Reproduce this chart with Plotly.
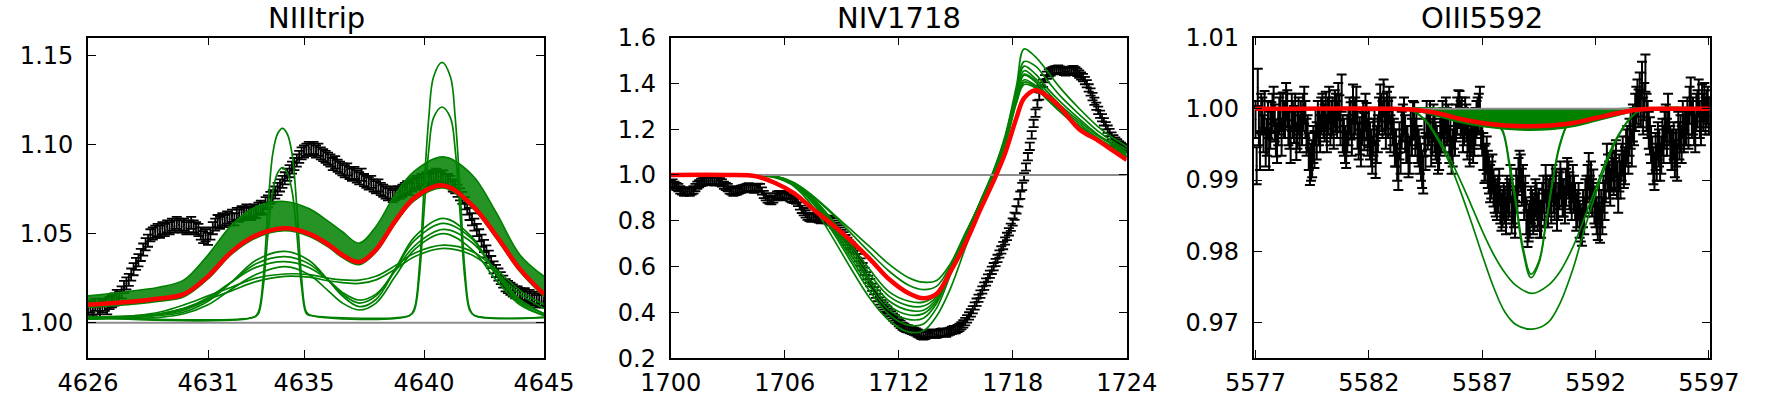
import numpy as np
import plotly.graph_objects as go

# ---------------- Panel 1: NIIItrip ----------------
NIII_X0, NIII_DX = 4626.0, 0.1
niii_flux = [
    1.008, 1.009, 1.007, 1.010, 1.008, 1.006, 1.009, 1.010, 1.008, 1.011,
    1.012, 1.013, 1.015, 1.014, 1.017, 1.020, 1.022, 1.024, 1.027, 1.030,
    1.033, 1.035, 1.038, 1.041, 1.044, 1.046, 1.049, 1.050, 1.051, 1.052,
    1.051, 1.053, 1.052, 1.054, 1.053, 1.055, 1.054, 1.056, 1.055, 1.054,
    1.055, 1.053, 1.054, 1.056, 1.054, 1.053, 1.052, 1.050, 1.048, 1.049,
    1.047, 1.050, 1.053, 1.055, 1.057, 1.056, 1.058, 1.057, 1.059, 1.058,
    1.060, 1.058, 1.061, 1.060, 1.062, 1.061, 1.063, 1.062, 1.061, 1.063,
    1.062, 1.064, 1.065, 1.064, 1.067, 1.068, 1.070, 1.071, 1.073, 1.075,
    1.077, 1.079, 1.081, 1.083, 1.085, 1.087, 1.089, 1.091, 1.093, 1.095,
    1.096, 1.097, 1.098, 1.097, 1.098, 1.096, 1.097, 1.095, 1.094, 1.093,
    1.092, 1.091, 1.089, 1.090, 1.088, 1.087, 1.086, 1.085, 1.086, 1.084,
    1.083, 1.084, 1.082, 1.081, 1.083, 1.080, 1.079, 1.078, 1.079, 1.077,
    1.076, 1.077, 1.075, 1.074, 1.073, 1.072, 1.073, 1.071, 1.072, 1.073,
    1.073, 1.074, 1.075, 1.076, 1.075, 1.077, 1.078, 1.079, 1.078, 1.080,
    1.080, 1.081, 1.080, 1.082, 1.081, 1.083, 1.082, 1.081, 1.082, 1.080,
    1.080, 1.079, 1.077, 1.076, 1.074, 1.072, 1.070, 1.067, 1.064, 1.061,
    1.058, 1.055, 1.052, 1.049, 1.046, 1.043, 1.040, 1.037, 1.034, 1.031,
    1.029, 1.027, 1.025, 1.023, 1.021, 1.020, 1.019, 1.018, 1.017, 1.017,
    1.016, 1.015, 1.016, 1.014, 1.015, 1.013, 1.014, 1.012, 1.013, 1.012,
    1.012]
NIII_ERR = 0.0034

niii_grid = [4626, 4628, 4629, 4630, 4631, 4632, 4633, 4634.2, 4635.2, 4636,
             4636.6, 4637.3, 4638, 4638.8, 4639.6, 4640.8, 4642, 4643, 4644, 4645]
niii_red = [1.010, 1.012, 1.0135, 1.016, 1.026, 1.040, 1.049, 1.053, 1.050, 1.044,
            1.038, 1.034, 1.041, 1.057, 1.070, 1.077, 1.066, 1.049, 1.030, 1.016]
niii_band_hi = [1.015, 1.018, 1.020, 1.024, 1.038, 1.055, 1.065, 1.068, 1.064, 1.057,
                1.051, 1.0446, 1.054, 1.072, 1.085, 1.093, 1.083, 1.062, 1.038, 1.026]
niii_band_lo = [1.0085, 1.0105, 1.012, 1.0145, 1.0245, 1.0385, 1.0475, 1.0515, 1.0485, 1.0425,
                1.0365, 1.0325, 1.0395, 1.0555, 1.0685, 1.0755, 1.0645, 1.0475, 1.0285, 1.0145]
niii_models = [
    [1.003, 1.003, 1.004, 1.006, 1.012, 1.023, 1.035, 1.040, 1.035, 1.024,
     1.015, 1.009, 1.013, 1.030, 1.048, 1.0585, 1.048, 1.027, 1.011, 1.004],
    [1.003, 1.0035, 1.0045, 1.007, 1.013, 1.023, 1.033, 1.037, 1.033, 1.024,
     1.016, 1.011, 1.015, 1.030, 1.046, 1.0557, 1.047, 1.028, 1.012, 1.005],
    [1.003, 1.004, 1.005, 1.008, 1.014, 1.023, 1.031, 1.0342, 1.031, 1.024,
     1.017, 1.0127, 1.016, 1.029, 1.043, 1.0523, 1.045, 1.029, 1.013, 1.005],
    [1.002, 1.0025, 1.003, 1.005, 1.010, 1.019, 1.027, 1.0314, 1.027, 1.018,
     1.011, 1.0071, 1.011, 1.026, 1.041, 1.050, 1.041, 1.024, 1.010, 1.004],
    [1.002, 1.004, 1.006, 1.010, 1.015, 1.020, 1.025, 1.0273, 1.027, 1.025,
     1.024, 1.0239, 1.026, 1.032, 1.039, 1.0435, 1.040, 1.030, 1.018, 1.010],
    [1.002, 1.0035, 1.005, 1.008, 1.013, 1.018, 1.023, 1.026, 1.0255, 1.0235,
     1.0225, 1.022, 1.024, 1.030, 1.037, 1.0417, 1.038, 1.028, 1.016, 1.008],
]
niii_narrow_x = [4626, 4632.9, 4633.1, 4633.3, 4633.5, 4633.7, 4633.9, 4634.1, 4634.3, 4634.5,
                 4634.7, 4634.9, 4635.1, 4635.3, 4639.4, 4639.6, 4639.8, 4640.0, 4640.2, 4640.4,
                 4640.75, 4641.1, 4641.3, 4641.5, 4641.7, 4641.9, 4642.1, 4645]
niii_narrow = [
    [1.003, 1.003, 1.006, 1.025, 1.065, 1.095, 1.106, 1.109, 1.106, 1.095,
     1.065, 1.025, 1.006, 1.004, 1.004, 1.008, 1.030, 1.075, 1.115, 1.138,
     1.146, 1.138, 1.115, 1.075, 1.030, 1.008, 1.004, 1.003],
    [1.003, 1.003, 1.005, 1.020, 1.050, 1.074, 1.084, 1.087, 1.084, 1.074,
     1.050, 1.020, 1.005, 1.004, 1.004, 1.007, 1.025, 1.062, 1.097, 1.115,
     1.121, 1.115, 1.097, 1.062, 1.025, 1.007, 1.004, 1.003],
]

# ---------------- Panel 2: NIV1718 ----------------
NIV_X0, NIV_DX = 1700.0, 0.1
niv_flux = [
    0.960, 0.965, 0.955, 0.950, 0.945, 0.935, 0.930, 0.925, 0.928, 0.930,
    0.925, 0.930, 0.935, 0.945, 0.955, 0.962, 0.968, 0.970, 0.972, 0.975,
    0.972, 0.978, 0.975, 0.970, 0.974, 0.976, 0.970, 0.965, 0.955, 0.950,
    0.945, 0.935, 0.930, 0.925, 0.928, 0.930, 0.935, 0.938, 0.940, 0.942,
    0.945, 0.948, 0.945, 0.940, 0.938, 0.942, 0.946, 0.945, 0.930, 0.915,
    0.905, 0.895, 0.890, 0.888, 0.895, 0.905, 0.912, 0.915, 0.910, 0.905,
    0.910, 0.915, 0.910, 0.900, 0.895, 0.893, 0.890, 0.880, 0.865, 0.850,
    0.840, 0.830, 0.820, 0.815, 0.812, 0.815, 0.818, 0.812, 0.808, 0.805,
    0.810, 0.808, 0.805, 0.806, 0.800, 0.795, 0.785, 0.775, 0.765, 0.755,
    0.745, 0.735, 0.722, 0.710, 0.698, 0.690, 0.680, 0.670, 0.655, 0.640,
    0.620, 0.600, 0.580, 0.560, 0.545, 0.530, 0.510, 0.495, 0.480, 0.465,
    0.450, 0.438, 0.428, 0.418, 0.410, 0.400, 0.390, 0.380, 0.372, 0.365,
    0.355, 0.348, 0.340, 0.335, 0.330, 0.328, 0.325, 0.322, 0.318, 0.315,
    0.310, 0.305, 0.300, 0.298, 0.300, 0.305, 0.308, 0.310, 0.308, 0.305,
    0.305, 0.308, 0.312, 0.315, 0.312, 0.310, 0.315, 0.318, 0.322, 0.325,
    0.325, 0.330, 0.335, 0.342, 0.350, 0.360, 0.372, 0.385, 0.398, 0.412,
    0.428, 0.445, 0.462, 0.480, 0.498, 0.515, 0.533, 0.550, 0.567, 0.584,
    0.600, 0.618, 0.636, 0.655, 0.673, 0.692, 0.712, 0.732, 0.752, 0.772,
    0.795, 0.820, 0.848, 0.878, 0.912, 0.950, 0.992, 1.035, 1.080, 1.125,
    1.175, 1.225, 1.270, 1.310, 1.345, 1.375, 1.400, 1.420, 1.435, 1.445,
    1.450, 1.455, 1.458, 1.460, 1.462, 1.458, 1.455, 1.452, 1.450, 1.452,
    1.455, 1.458, 1.460, 1.455, 1.448, 1.440, 1.432, 1.425, 1.412, 1.398,
    1.380, 1.362, 1.342, 1.322, 1.300, 1.282, 1.265, 1.250, 1.232, 1.215,
    1.200, 1.185, 1.170, 1.158, 1.148, 1.140, 1.132, 1.125, 1.120, 1.117,
    1.115]
NIV_ERR = 0.016

niv_grid = [1700, 1703, 1704.5, 1705.5, 1706.5, 1707.5, 1708.5, 1709.5, 1710.5, 1711.5,
            1712.5, 1713.3, 1714, 1714.7, 1715.5, 1716.3, 1717, 1717.6, 1718.2, 1718.6,
            1719.2, 1719.8, 1720.5, 1721.5, 1722.5, 1723.3, 1724]
niv_red = [1.0, 1.0, 0.994, 0.965, 0.920, 0.850, 0.784, 0.712, 0.632, 0.545,
           0.485, 0.462, 0.482, 0.575, 0.700, 0.850, 0.975, 1.095, 1.250, 1.335,
           1.370, 1.345, 1.295, 1.200, 1.150, 1.105, 1.066]
niv_models = [
    [1.0, 1.0, 0.999, 0.988, 0.950, 0.860, 0.730, 0.590, 0.460, 0.365,
     0.315, 0.320, 0.385, 0.500, 0.680, 0.860, 1.005, 1.150, 1.330, 1.440,
     1.410, 1.345, 1.280, 1.205, 1.150, 1.110, 1.080],
    [1.0, 1.0, 0.999, 0.990, 0.955, 0.875, 0.755, 0.620, 0.490, 0.390,
     0.345, 0.350, 0.420, 0.560, 0.725, 0.885, 1.020, 1.170, 1.390, 1.550,
     1.515, 1.455, 1.380, 1.290, 1.210, 1.160, 1.125],
    [1.0, 1.0, 0.999, 0.991, 0.958, 0.880, 0.765, 0.635, 0.510, 0.410,
     0.370, 0.375, 0.440, 0.570, 0.730, 0.885, 1.020, 1.165, 1.370, 1.495,
     1.475, 1.415, 1.345, 1.265, 1.190, 1.145, 1.110],
    [1.0, 1.0, 0.999, 0.992, 0.960, 0.885, 0.775, 0.650, 0.530, 0.430,
     0.390, 0.395, 0.450, 0.575, 0.730, 0.882, 1.015, 1.155, 1.360, 1.475,
     1.440, 1.380, 1.320, 1.245, 1.175, 1.135, 1.100],
    [1.0, 1.0, 0.999, 0.992, 0.962, 0.890, 0.785, 0.665, 0.545, 0.450,
     0.410, 0.410, 0.460, 0.580, 0.732, 0.880, 1.012, 1.150, 1.350, 1.455,
     1.420, 1.365, 1.305, 1.235, 1.170, 1.130, 1.095],
    [1.0, 1.0, 0.999, 0.993, 0.962, 0.893, 0.795, 0.680, 0.565, 0.470,
     0.430, 0.428, 0.470, 0.585, 0.735, 0.880, 1.010, 1.145, 1.340, 1.435,
     1.405, 1.350, 1.295, 1.225, 1.160, 1.120, 1.090],
    [1.0, 1.0, 0.999, 0.994, 0.964, 0.898, 0.805, 0.695, 0.585, 0.490,
     0.450, 0.445, 0.480, 0.590, 0.738, 0.880, 1.008, 1.140, 1.330, 1.415,
     1.390, 1.340, 1.285, 1.215, 1.155, 1.115, 1.085],
    [1.0, 1.0, 0.999, 0.994, 0.965, 0.905, 0.830, 0.745, 0.660, 0.580,
     0.520, 0.500, 0.515, 0.600, 0.740, 0.880, 1.005, 1.135, 1.320, 1.405,
     1.385, 1.335, 1.280, 1.210, 1.150, 1.112, 1.082],
    [1.0, 1.0, 0.999, 0.995, 0.966, 0.908, 0.835, 0.760, 0.685, 0.610,
     0.553, 0.532, 0.540, 0.610, 0.745, 0.880, 1.003, 1.130, 1.315, 1.395,
     1.380, 1.330, 1.275, 1.205, 1.148, 1.110, 1.080],
]

# ---------------- Panel 3: OIII5592 ----------------
OIII_X0, OIII_DX = 5577.0, 0.1
oiii_flux = [
    0.9985, 1.0030, 0.9940, 0.9990, 0.9999, 0.9960, 0.9940, 0.9983, 1.0005, 0.9959,
    0.9975, 0.9995, 0.9997, 0.9985, 1.0000, 0.9970, 0.9995, 0.9978, 0.9954, 0.9990,
    0.9985, 0.9995, 0.9985, 0.9965, 0.9919, 0.9930, 0.9943, 0.9955, 0.9975, 0.9990,
    0.9985, 0.9998, 0.9990, 0.9975, 0.9990, 1.0000, 0.9985, 0.9993, 1.0022, 0.9960,
    0.9943, 0.9975, 0.9983, 1.0008, 0.9990, 0.9970, 0.9962, 0.9975, 0.9968, 0.9982,
    0.9972, 0.9945, 0.9960, 0.9929, 0.9965, 1.0008, 0.9985, 0.9990, 0.9998, 1.0005,
    0.9990, 0.9960, 0.9945, 0.9912, 0.9935, 0.9980, 0.9965, 0.9950, 0.9935, 0.9960,
    0.9983, 0.9970, 0.9945, 0.9925, 0.9907, 0.9940, 0.9969, 0.9985, 0.9960, 0.9965,
    0.9950, 0.9940, 0.9965, 0.9975, 0.9990, 0.9980, 0.9960, 0.9945, 0.9960, 0.9990,
    0.9999, 0.9990, 0.9975, 0.9980, 0.9965, 0.9960, 0.9950, 0.9975, 0.9990, 1.0005,
    0.9960, 0.9922, 0.9935, 0.9907, 0.9900, 0.9889, 0.9875, 0.9880, 0.9865, 0.9860,
    0.9865, 0.9880, 0.9875, 0.9851, 0.9860, 0.9890, 0.9905, 0.9910, 0.9895, 0.9880,
    0.9832, 0.9845, 0.9860, 0.9855, 0.9870, 0.9862, 0.9845, 0.9880, 0.9895, 0.9860,
    0.9880, 0.9895, 0.9870, 0.9855, 0.9885, 0.9889, 0.9875, 0.9890, 0.9900, 0.9880,
    0.9895, 0.9870, 0.9860, 0.9845, 0.9834, 0.9850, 0.9880, 0.9912, 0.9900, 0.9889,
    0.9860, 0.9842, 0.9838, 0.9850, 0.9870, 0.9925, 0.9900, 0.9912, 0.9905, 0.9930,
    0.9880, 0.9900, 0.9935, 0.9920, 0.9950, 0.9960, 0.9945, 0.9975, 1.0005, 1.0001,
    1.0000, 0.9990, 1.0050, 0.9985, 0.9962, 0.9935, 0.9912, 0.9925, 0.9945, 0.9935,
    0.9950, 0.9980, 0.9995, 0.9950, 0.9940, 0.9930, 0.9925, 0.9955, 0.9950, 0.9965,
    0.9975, 0.9970, 1.0018, 0.9990, 0.9965, 1.0000, 0.9985, 1.0008, 1.0010, 1.0000,
    0.9990]
# in-between samples (5577.05, 5577.15, ...)
OIII_X0_MID = 5577.05
oiii_flux_mid = [
    0.9920, 0.9975, 0.9995, 0.9965, 0.9945, 0.9985, 0.9970, 0.9995, 0.9980, 0.9950,
    0.9990, 0.9960, 0.9985, 1.0010, 0.9975, 0.9950, 0.9985, 0.9995, 0.9970, 0.9965,
    0.9975, 1.0005, 0.9960, 0.9940, 0.9925, 0.9950, 0.9975, 0.9985, 0.9965, 0.9995,
    0.9980, 0.9965, 1.0005, 0.9985, 0.9970, 0.9995, 1.0010, 0.9975, 0.9965, 0.9950,
    0.9965, 0.9990, 0.9960, 0.9985, 1.0005, 0.9955, 0.9945, 0.9985, 0.9995, 0.9960,
    0.9955, 0.9935, 0.9975, 0.9950, 0.9990, 0.9995, 1.0015, 0.9970, 0.9985, 0.9965,
    0.9975, 0.9945, 0.9925, 0.9955, 0.9970, 0.9990, 0.9950, 0.9930, 0.9975, 0.9985,
    0.9960, 0.9950, 0.9935, 0.9915, 0.9960, 0.9985, 0.9975, 0.9945, 0.9980, 0.9955,
    0.9935, 0.9960, 0.9985, 0.9965, 0.9975, 0.9950, 0.9935, 0.9970, 0.9980, 1.0000,
    0.9985, 0.9965, 0.9990, 0.9955, 0.9945, 0.9970, 0.9960, 0.9985, 0.9995, 0.9970,
    0.9940, 0.9925, 0.9915, 0.9895, 0.9910, 0.9880, 0.9870, 0.9890, 0.9855, 0.9870,
    0.9850, 0.9870, 0.9895, 0.9865, 0.9845, 0.9880, 0.9915, 0.9890, 0.9870, 0.9850,
    0.9840, 0.9865, 0.9850, 0.9875, 0.9855, 0.9845, 0.9870, 0.9860, 0.9880, 0.9875,
    0.9865, 0.9880, 0.9890, 0.9870, 0.9900, 0.9875, 0.9865, 0.9905, 0.9885, 0.9870,
    0.9880, 0.9855, 0.9870, 0.9840, 0.9860, 0.9875, 0.9895, 0.9880, 0.9875, 0.9865,
    0.9850, 0.9870, 0.9860, 0.9880, 0.9895, 0.9910, 0.9890, 0.9925, 0.9915, 0.9900,
    0.9910, 0.9925, 0.9915, 0.9945, 0.9935, 0.9970, 0.9980, 0.9995, 1.0015, 1.0025,
    1.0040, 1.0010, 0.9995, 0.9970, 0.9950, 0.9920, 0.9940, 0.9955, 0.9925, 0.9960,
    0.9970, 0.9960, 0.9975, 0.9940, 0.9955, 0.9945, 0.9970, 0.9965, 0.9985, 0.9975,
    0.9990, 1.0005, 0.9985, 0.9975, 0.9995, 1.0015, 0.9975, 0.9995, 0.9990, 1.0005]
OIII_ERR = 0.0026

oiii_grid = [5577, 5583, 5584, 5585, 5586, 5587, 5588, 5589, 5590, 5591, 5592, 5593, 5594, 5595, 5597]
oiii_red = [1.0, 1.0, 0.99985, 0.9994, 0.9986, 0.9980, 0.99765, 0.99755, 0.99765, 0.9980,
            0.9987, 0.9994, 0.99995, 1.0, 1.0]
oiii_band_lo = [1.0, 1.0, 0.99975, 0.9990, 0.9981, 0.9975, 0.99715, 0.99700, 0.99710, 0.9975,
                0.9983, 0.9991, 0.99985, 1.0, 1.0]
oiii_band_hi = [1.0, 1.0, 1.0, 1.0, 1.0, 1.0, 1.0, 1.0, 1.0, 1.0, 1.0, 1.0, 1.0, 1.0, 1.0]
oiii_narrow_x = [5577, 5586, 5587, 5587.5, 5587.9, 5588.2, 5588.5, 5588.8, 5589.15, 5589.5,
                 5589.8, 5590.1, 5590.4, 5590.8, 5591.3, 5592.3, 5597]
oiii_narrow = [
    [1.0, 0.9999, 0.9993, 0.9985, 0.9968, 0.9920, 0.9862, 0.9800, 0.9763, 0.9783,
     0.9835, 0.9895, 0.9945, 0.9980, 0.9994, 0.9999, 1.0],
    [1.0, 0.9999, 0.9994, 0.9986, 0.9970, 0.9925, 0.9868, 0.9806, 0.9768, 0.9786,
     0.9838, 0.9898, 0.9948, 0.9981, 0.9994, 0.9999, 1.0],
]
oiii_wide_x = [5577, 5583.5, 5584, 5584.5, 5585, 5585.5, 5586, 5586.5, 5587, 5587.5,
               5588, 5588.5, 5589.2, 5589.9, 5590.4, 5591, 5591.5, 5592, 5592.5, 5593,
               5593.5, 5594, 5597]
oiii_wide = [
    [1.0, 1.0, 0.9996, 0.9984, 0.9962, 0.9935, 0.9902, 0.9866, 0.9829, 0.9796,
     0.9770, 0.9752, 0.9741, 0.9752, 0.9770, 0.9806, 0.9846, 0.9888, 0.9930, 0.9963,
     0.9986, 0.9998, 1.0],
    [1.0, 1.0, 0.9996, 0.9983, 0.9959, 0.9928, 0.9888, 0.9843, 0.9795, 0.9750,
     0.9715, 0.9697, 0.9691, 0.9700, 0.9725, 0.9775, 0.9830, 0.9880, 0.9925, 0.9961,
     0.9985, 0.9998, 1.0],
]

CONTINUUM = 1.0

# ---------------- axes / layout specs ----------------
titles = ["NIIItrip", "NIV1718", "OIII5592"]
x_ranges = [[4626, 4645], [1700, 1724], [5576.92, 5597.05]]
x_ticks = [[4626, 4631, 4635, 4640, 4645],
           [1700, 1706, 1712, 1718, 1724],
           [5577, 5582, 5587, 5592, 5597]]
y_ranges = [[0.98, 1.16], [0.2, 1.6], [0.965, 1.01]]
y_ticks = [[1.00, 1.05, 1.10, 1.15],
           [0.2, 0.4, 0.6, 0.8, 1.0, 1.2, 1.4, 1.6],
           [0.97, 0.98, 0.99, 1.00, 1.01]]
y_fmt = [".2f", ".1f", ".2f"]

W, H = 1767, 398
x_px = [(88, 544), (670.7, 1126.7), (1253.7, 1710)]
y_px = (37.5, 358.3)
TITLE_Y = 18

GREEN = "#008000"
RED = "#ff0000"
GRAY = "#8c8c8c"
FONT = "DejaVu Sans"

fig = go.Figure()


def ax_names(i):
    return ("x" if i == 0 else f"x{i+1}", "y" if i == 0 else f"y{i+1}")


def add_errorbars(i, x0, dx, flux, err, thick, capw):
    xa, ya = ax_names(i)
    xs = np.round(x0 + dx * np.arange(len(flux)), 3)
    fig.add_trace(go.Scatter(
        x=xs, y=flux, mode="markers", xaxis=xa, yaxis=ya,
        marker=dict(size=2, color="black"),
        error_y=dict(type="constant", value=err, color="black", thickness=thick, width=capw),
        showlegend=False, hoverinfo="skip"))


def add_line(i, x, y, color, width, fill=None, fillcolor=None):
    xa, ya = ax_names(i)
    fig.add_trace(go.Scatter(
        x=x, y=y, mode="lines", xaxis=xa, yaxis=ya,
        line=dict(color=color, width=width, shape="spline", smoothing=1.0),
        fill=fill, fillcolor=fillcolor, showlegend=False, hoverinfo="skip"))


# Panel 1
add_errorbars(0, NIII_X0, NIII_DX, niii_flux, NIII_ERR, 1.8, 5)
add_line(0, niii_grid, niii_band_lo, GREEN, 1.5)
add_line(0, niii_grid, niii_band_hi, GREEN, 1.6, fill="tonexty", fillcolor="rgba(0,128,0,0.85)")
for m in niii_models:
    add_line(0, niii_grid, m, GREEN, 1.7)
for m in niii_narrow:
    add_line(0, niii_narrow_x, m, GREEN, 1.7)
add_line(0, x_ranges[0], [CONTINUUM, CONTINUUM], GRAY, 2)
add_line(0, niii_grid, niii_red, RED, 4.5)

# Panel 2
add_errorbars(1, NIV_X0, NIV_DX, niv_flux, NIV_ERR, 1.8, 5)
for m in niv_models:
    add_line(1, niv_grid, m, GREEN, 1.7)
add_line(1, x_ranges[1], [CONTINUUM, CONTINUUM], GRAY, 2)
add_line(1, niv_grid, niv_red, RED, 4.5)

# Panel 3
add_errorbars(2, OIII_X0, OIII_DX, oiii_flux, OIII_ERR, 2.0, 5)
add_errorbars(2, OIII_X0_MID, OIII_DX, oiii_flux_mid, OIII_ERR, 2.0, 5)
add_line(2, oiii_grid, oiii_band_lo, GREEN, 1.5)
add_line(2, oiii_grid, oiii_band_hi, GREEN, 1.5, fill="tonexty", fillcolor=GREEN)
for m in oiii_wide:
    add_line(2, oiii_wide_x, m, GREEN, 1.7)
for m in oiii_narrow:
    add_line(2, oiii_narrow_x, m, GREEN, 1.7)
add_line(2, x_ranges[2], [CONTINUUM, CONTINUUM], GRAY, 2)
add_line(2, oiii_grid, oiii_red, RED, 4.5)

layout = dict(
    width=W, height=H, margin=dict(l=0, r=0, t=0, b=0, autoexpand=False),
    paper_bgcolor="white", plot_bgcolor="white",
    font=dict(family=FONT, color="black"),
    showlegend=False,
)
common = dict(ticks="inside", ticklen=8, tickwidth=1.3, tickcolor="black",
              showline=True, linecolor="black", linewidth=1.8, mirror="ticks",
              showgrid=False, zeroline=False, automargin=False,
              tickfont=dict(family=FONT, size=24, color="black"))
annotations = []
for i in range(3):
    xa, ya = ax_names(i)
    xkey = "xaxis" if i == 0 else f"xaxis{i+1}"
    ykey = "yaxis" if i == 0 else f"yaxis{i+1}"
    dom_x = [x_px[i][0] / W, x_px[i][1] / W]
    dom_y = [1 - y_px[1] / H, 1 - y_px[0] / H]
    layout[xkey] = dict(common, domain=dom_x, range=x_ranges[i], anchor=ya,
                        tickvals=x_ticks[i], ticktext=[str(t) for t in x_ticks[i]],
                        ticklabelstandoff=2)
    layout[ykey] = dict(common, domain=dom_y, range=y_ranges[i], anchor=xa,
                        tickvals=y_ticks[i], tickformat=y_fmt[i],
                        ticklabelstandoff=8)
    annotations.append(dict(
        text=titles[i], x=(dom_x[0] + dom_x[1]) / 2, y=1 - TITLE_Y / H,
        xref="paper", yref="paper", xanchor="center", yanchor="middle",
        showarrow=False, font=dict(family=FONT, size=29, color="black")))
layout["annotations"] = annotations
fig.update_layout(**layout)

# remove the browser's default 8px body margin so the figure sits at the page origin
fig.write_html("out.html",
               config=dict(displayModeBar=False),
               post_script="document.body.style.margin='0';document.body.style.padding='0';")
